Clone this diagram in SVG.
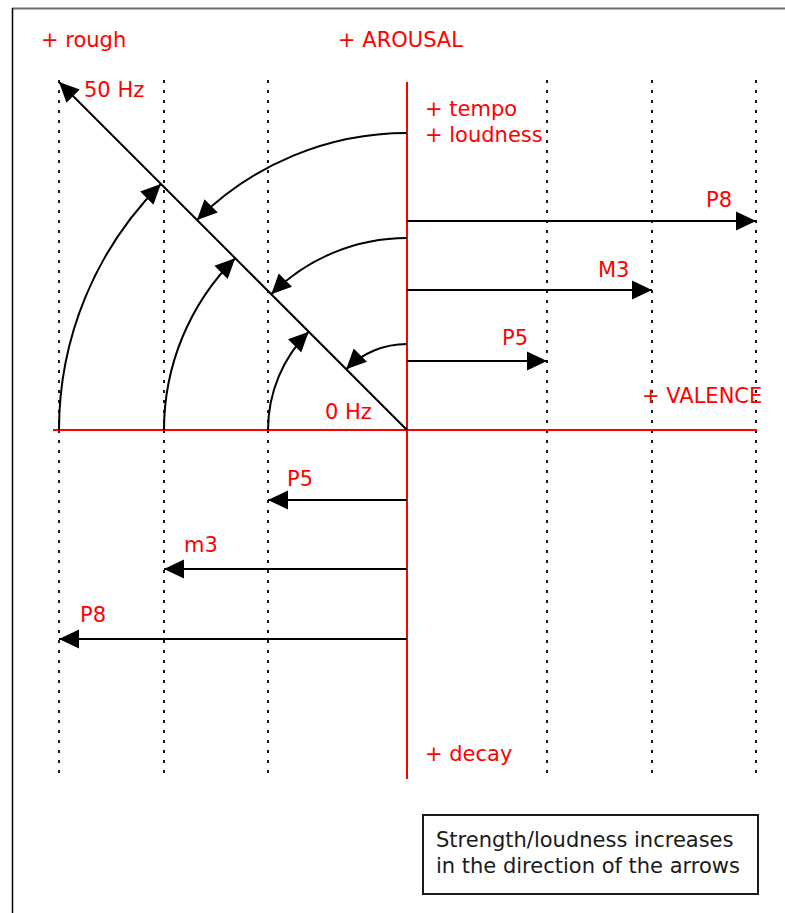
<svg xmlns="http://www.w3.org/2000/svg" width="785" height="913" viewBox="0 0 785 913">
<style>
.lbl{font-family:"DejaVu Sans","Liberation Sans",sans-serif;font-size:21px;fill:#ff0000}
.leg{font-family:"DejaVu Sans","Liberation Sans",sans-serif;font-size:21px;fill:#1a1a1a}
.axis{stroke:#ff0000;stroke-width:2;fill:none}
.grid{stroke:#1a1a1a;stroke-width:2;stroke-dasharray:3,7;fill:none}
.arr{stroke:#000;stroke-width:2;fill:none;marker-end:url(#ah)}
</style>
<defs>
<marker id="ah" markerUnits="userSpaceOnUse" markerWidth="20" markerHeight="20" refX="17" refY="8" orient="auto" viewBox="0 0 17 16">
<path d="M0,0 L17,8 L0,16 z" fill="#000"/>
</marker>
</defs>
<rect width="785" height="913" fill="#fff"/>
<g id="frame">
<line x1="12" y1="8.5" x2="785" y2="8.5" stroke="#6e6e6e" stroke-width="2"/>
<line x1="12.5" y1="8" x2="12.5" y2="913" stroke="#000" stroke-width="1.5"/>
</g>
<g id="grid">
<line class="grid" x1="59" y1="80" x2="59" y2="776"/>
<line class="grid" x1="164" y1="80" x2="164" y2="776"/>
<line class="grid" x1="268" y1="80" x2="268" y2="776"/>
<line class="grid" x1="547" y1="80" x2="547" y2="776"/>
<line class="grid" x1="652" y1="80" x2="652" y2="776"/>
<line class="grid" x1="756" y1="80" x2="756" y2="776"/>
</g>
<g id="axes">
<line class="axis" x1="53" y1="430" x2="757" y2="430"/>
<line class="axis" x1="407" y1="82" x2="407" y2="779"/>
</g>
<g id="connectors">
<line class="arr" x1="407" y1="430" x2="59" y2="82"/>
<path class="arr" d="M59,430 A348,348 0 0,1 160.93,183.93"/>
<path class="arr" d="M164,430 A243,243 0 0,1 235.17,258.17"/>
<path class="arr" d="M268,430 A139,139 0 0,1 308.71,331.71"/>
<path class="arr" d="M407,133 A297,297 0 0,0 196.99,219.99"/>
<path class="arr" d="M407,238 A192,192 0 0,0 271.24,294.24"/>
<path class="arr" d="M407,344 A86,86 0 0,0 346.19,369.19"/>
<line class="arr" x1="407" y1="221" x2="756" y2="221"/>
<line class="arr" x1="407" y1="290" x2="652" y2="290"/>
<line class="arr" x1="407" y1="361" x2="547" y2="361"/>
<line class="arr" x1="407" y1="500" x2="268" y2="500"/>
<line class="arr" x1="407" y1="569" x2="164" y2="569"/>
<line class="arr" x1="407" y1="639" x2="59" y2="639"/>
</g>
<g id="labels">
<text class="lbl" x="41" y="47">+ rough</text>
<text class="lbl" x="338" y="47">+ AROUSAL</text>
<text class="lbl" x="84" y="97">50 Hz</text>
<text class="lbl" x="425" y="116">+ tempo</text>
<text class="lbl" x="425" y="142">+ loudness</text>
<text class="lbl" x="325" y="419">0 Hz</text>
<text class="lbl" x="642" y="403">+ VALENCE</text>
<text class="lbl" x="425" y="761">+ decay</text>
<text class="lbl" x="706" y="207">P8</text>
<text class="lbl" x="598" y="277">M3</text>
<text class="lbl" x="502" y="345">P5</text>
<text class="lbl" x="287" y="486">P5</text>
<text class="lbl" x="184" y="552">m3</text>
<text class="lbl" x="80" y="622">P8</text>
</g>
<g id="legend">
<rect x="423" y="815" width="335" height="79" fill="none" stroke="#1a1a1a" stroke-width="2"/>
<text class="leg" x="436" y="847">Strength/loudness increases</text>
<text class="leg" x="436" y="873">in the direction of the arrows</text>
</g>
</svg>
